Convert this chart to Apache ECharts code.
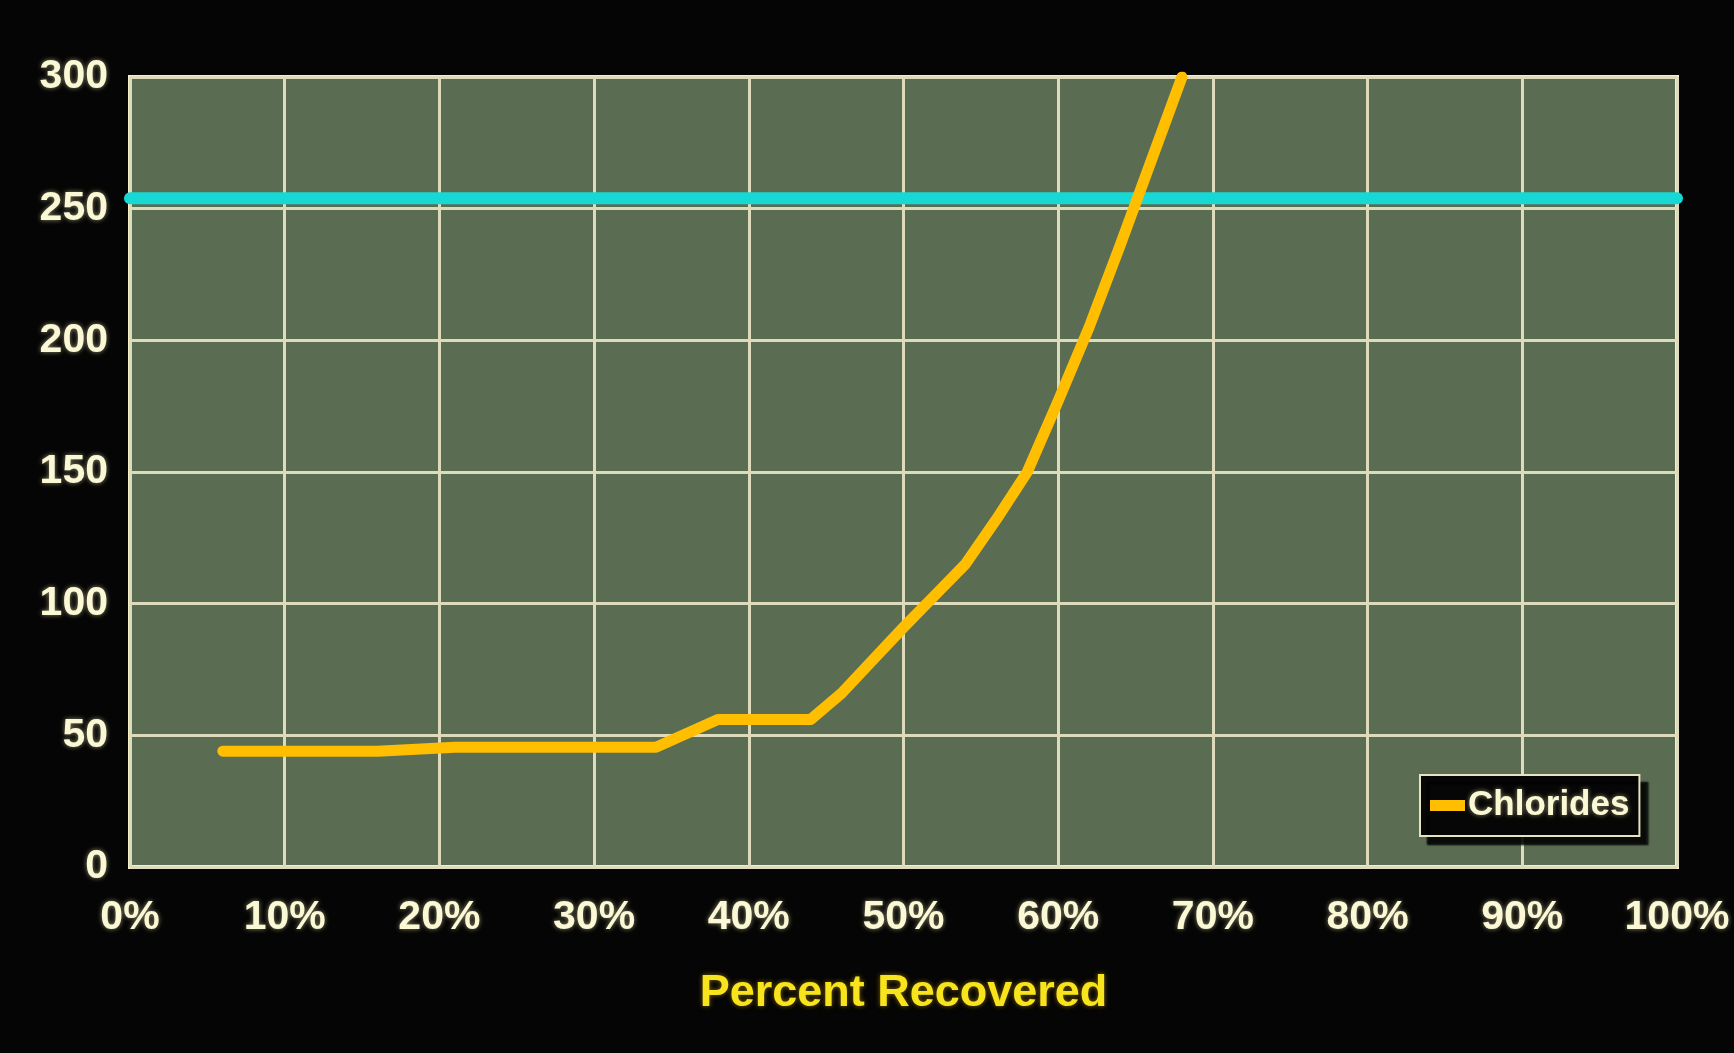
<!DOCTYPE html>
<html>
<head>
<meta charset="utf-8">
<script src="https://cdn.jsdelivr.net/npm/echarts@6/dist/echarts.min.js"></script>
<style>
  html, body { margin: 0; padding: 0; background: #050505; }
  #chart { width: 1734px; height: 1053px; }
</style>
</head>
<body>
<div id="chart"></div>
<script>
// ---- data ----
const xTicks = [0, 10, 20, 30, 40, 50, 60, 70, 80, 90, 100];
const yTicks = [0, 50, 100, 150, 200, 250, 300];
const chloridePct = [6, 16, 21, 34, 38, 44, 46, 48, 50, 52, 54, 56, 58, 60, 62, 64, 66, 68];
const chlorideVal = [44, 44, 45.5, 45.5, 56, 56, 66, 78.5, 91, 103, 115, 132, 150, 177, 205, 236, 268, 300];
const limitPct = [0, 100];
const limitVal = [254, 254];
const seriesName = 'Chlorides';
const xTitle = 'Percent Recovered';

const font = '"Liberation Sans", Arial, sans-serif';
const labelStyle = {
  color: '#fbf8d6',
  fontFamily: font,
  fontWeight: 'bold',
  fontSize: 41,
  textShadowColor: 'rgba(255,250,190,0.55)',
  textShadowBlur: 5
};

const chart = echarts.init(document.getElementById('chart'));
chart.setOption({
  backgroundColor: '#050505',
  animation: false,
  grid: {
    left: 130, right: 57, top: 77, bottom: 186,
    show: true,
    backgroundColor: '#5a6d52',
    borderColor: '#f3efc6',
    borderWidth: 4
  },
  legend: {
    data: [seriesName],
    left: 1420, top: 775,
    orient: 'horizontal',
    backgroundColor: '#060606',
    borderColor: '#e6e3c0',
    borderWidth: 2,
    padding: [13, 10, 13, 10],
    shadowColor: 'rgba(0,0,0,0.9)',
    shadowOffsetX: 8,
    shadowOffsetY: 8,
    shadowBlur: 2,
    icon: 'rect',
    itemWidth: 35,
    itemHeight: 11,
    textStyle: Object.assign({}, labelStyle, { fontSize: 35, padding: [0, 0, 0, -2] })
  },
  xAxis: {
    type: 'value',
    min: 0, max: 100, interval: 10,
    name: xTitle,
    nameLocation: 'middle',
    nameGap: 104,
    nameTextStyle: {
      color: '#f7e41c',
      fontFamily: font,
      fontWeight: 'bold',
      fontSize: 45,
      textShadowColor: 'rgba(255,200,0,0.5)',
      textShadowBlur: 5
    },
    axisLine: { show: false },
    axisTick: { show: false },
    axisLabel: Object.assign({}, labelStyle, {
      margin: 30,
      formatter: v => xTicks.includes(v) ? v + '%' : ''
    }),
    splitLine: { show: true, lineStyle: { color: '#dedbbd', width: 3 } }
  },
  yAxis: {
    type: 'value',
    min: 0, max: 300, interval: 50,
    axisLine: { show: false },
    axisTick: { show: false },
    axisLabel: Object.assign({}, labelStyle, {
      margin: 22,
      formatter: v => yTicks.includes(v) ? String(v) : ''
    }),
    splitLine: { show: true, lineStyle: { color: '#dedbbd', width: 3 } }
  },
  series: [
    {
      name: 'limit',
      type: 'line',
      data: limitPct.map((x, i) => [x, limitVal[i]]),
      showSymbol: false,
      clip: false,
      silent: true,
      lineStyle: { color: '#17d8d4', width: 12, cap: 'round' },
      z: 3
    },
    {
      name: seriesName,
      type: 'line',
      data: chloridePct.map((x, i) => [x, chlorideVal[i]]),
      showSymbol: false,
      clip: true,
      itemStyle: { color: '#ffbf00' },
      lineStyle: { color: '#ffbf00', width: 11, cap: 'round', join: 'round' },
      z: 4
    }
  ]
});
</script>
</body>
</html>
